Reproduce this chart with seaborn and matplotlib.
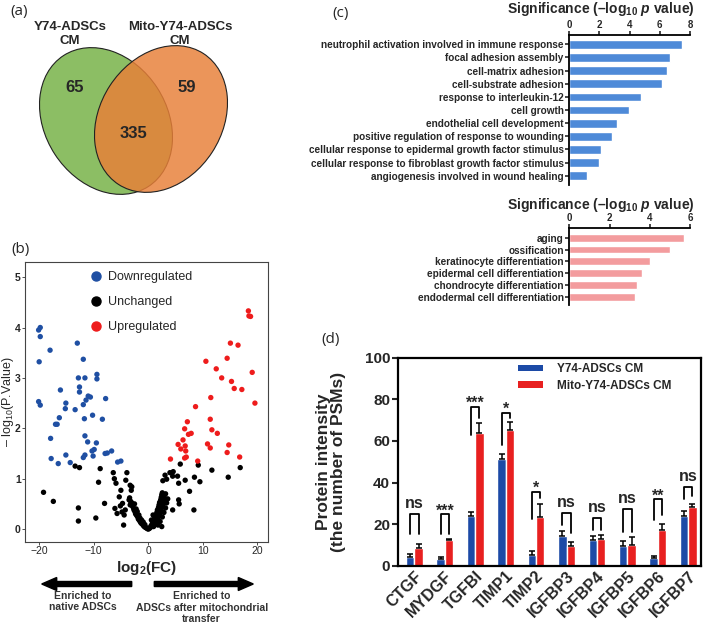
import numpy as np
import pandas as pd
import matplotlib
matplotlib.use("Agg")
import matplotlib.pyplot as plt
import seaborn as sns
from matplotlib.patches import Ellipse, FancyArrow, Patch
from matplotlib.lines import Line2D

# ---------------- data ----------------
venn_labels = ["Y74-ADSCs\nCM", "Mito-Y74-ADSCs\nCM"]
venn_counts = [65, 335, 59]   # only A, both, only B

down_x = [-20.1, -19.8, -19.8, -18.0, -20.0, -20.1, -19.8, -16.1, -13.0, -11.9, -12.8, -11.6,
          -9.4, -9.4, -12.6, -12.6, -11.9, -11.4, -11.0, -10.6, -7.8, -15.1, -15.2, -13.4,
          -16.3, -17.0, -16.7, -11.7, -10.2, -8.4, -17.9, -11.6, -11.1, -9.5, -10.3, -9.9,
          -17.8, -16.5, -15.1, -14.3, -11.9, -11.6, -10.1, -7.9, -7.5, -6.7, -5.6, -5.0]
down_y = [3.95, 4.00, 3.82, 3.55, 3.32, 2.53, 2.46, 2.76, 3.69, 3.37, 3.00, 3.00,
          3.07, 2.98, 2.82, 2.72, 2.47, 2.56, 2.64, 2.62, 2.59, 2.50, 2.39, 2.37,
          2.21, 2.08, 2.08, 2.19, 2.26, 2.18, 1.80, 1.85, 1.73, 1.71, 1.55, 1.58,
          1.40, 1.30, 1.47, 1.32, 1.42, 1.47, 1.45, 1.50, 1.51, 1.55, 1.33, 1.35]

up_x = [18.4, 18.5, 18.8, 15.1, 16.5, 10.6, 14.5, 12.5, 19.1, 13.5, 15.3, 15.8, 17.2,
        11.5, 19.6, 8.7, 7.2, 11.4, 6.7, 11.7, 12.7, 7.4, 7.9, 6.4, 5.5, 6.8, 10.9,
        14.8, 6.0, 6.9, 11.4, 14.5, 6.7, 7.0, 4.1, 9.1, 16.8]
up_y = [4.33, 4.23, 4.22, 3.69, 3.65, 3.33, 3.39, 3.18, 3.11, 3.00, 2.93, 2.79, 2.77,
        2.61, 2.50, 2.43, 2.13, 2.18, 1.99, 1.97, 1.90, 1.88, 1.90, 1.77, 1.68, 1.65, 1.69,
        1.67, 1.59, 1.55, 1.61, 1.52, 1.41, 1.43, 1.39, 1.35, 1.43]

unch_x = [-13.4, -12.6, -8.8, -6.4, -3.9, -6.2, -5.9, -9.1, -4.1, -3.3, -3.0, -3.1, -19.2,
          -17.4, -5.0, -8.0, -12.8, -12.8, -9.6, -5.3, -5.1, -4.7, -6.1, -5.7, -4.8, -4.4,
          -4.2, -3.5, -3.3, -4.5,
          5.9, 9.2, 11.7, 16.9, 14.7, 3.1, 4.0, 4.6, 4.5, 5.4, 2.7, 3.4, 5.6, 6.8, 8.5,
          9.5, 7.6, 5.6, 5.7, 4.5, 8.4, 2.5,
          -3.4, -3.2, -3.0, -2.9, -2.7, -2.6, -2.4, -2.3, -2.1, -1.9, -1.8, -1.6, -1.4,
          -1.3, -1.1, -0.9, -0.8, -0.6, -0.4, -0.3, -0.1, 0.0, -2.2, -2.0, -1.7, -1.5,
          -2.5, -1.2, -0.9, -0.6,
          0.2, 0.4, 0.5, 0.7, 0.8, 1.0, 1.1, 1.3, 1.4, 1.6, 1.7, 1.9, 2.0, 2.1, 2.3, 2.4,
          2.5, 2.6, 1.0, 1.3, 1.5, 1.7, 1.9, 2.1, 2.3, 2.5, 2.7, 2.9, 3.0, 3.2, 1.8, 2.2,
          2.6, 2.9, 3.2, 3.4, 3.6, 0.6, 0.9]
unch_y = [1.25, 1.22, 1.20, 1.12, 1.12, 1.00, 0.91, 0.93, 0.97, 0.87, 0.84, 0.77, 0.73,
          0.55, 0.77, 0.51, 0.42, 0.16, 0.22, 0.64, 0.46, 0.51, 0.41, 0.31, 0.34, 0.28,
          0.38, 0.58, 0.48, 0.08,
          1.29, 1.27, 1.17, 1.22, 1.03, 1.07, 1.12, 1.14, 1.05, 1.05, 0.96, 0.99, 0.91,
          0.97, 1.03, 0.94, 0.75, 0.58, 0.50, 0.38, 0.38, 0.05,
          0.62, 0.55, 0.52, 0.46, 0.42, 0.38, 0.34, 0.30, 0.27, 0.24, 0.20, 0.17, 0.14,
          0.12, 0.10, 0.08, 0.06, 0.04, 0.03, 0.02, 0.01, 0.00, 0.40, 0.35, 0.28, 0.22,
          0.50, 0.18, 0.14, 0.09,
          0.01, 0.03, 0.06, 0.09, 0.12, 0.16, 0.20, 0.24, 0.28, 0.33, 0.38, 0.43, 0.48,
          0.53, 0.58, 0.63, 0.68, 0.72, 0.05, 0.10, 0.15, 0.20, 0.25, 0.30, 0.36, 0.42,
          0.48, 0.55, 0.62, 0.70, 0.08, 0.15, 0.24, 0.33, 0.42, 0.52, 0.60, 0.18, 0.28]

go_up_terms = ["neutrophil activation involved in immune response", "focal adhesion assembly",
               "cell-matrix adhesion", "cell-substrate adhesion", "response to interleukin-12",
               "cell growth", "endothelial cell development",
               "positive regulation of response to wounding",
               "cellular response to epidermal growth factor stimulus",
               "cellular response to fibroblast growth factor stimulus",
               "angiogenesis involved in wound healing"]
go_up_vals = [7.49, 6.68, 6.46, 6.15, 4.73, 3.98, 3.14, 2.83, 2.08, 1.99, 1.15]

go_dn_terms = ["aging", "ossification", "keratinocyte differentiation",
               "epidermal cell differentiation", "chondrocyte differentiation",
               "endodermal cell differentiation"]
go_dn_vals = [5.71, 5.01, 4.01, 3.62, 3.39, 3.27]

genes = ["CTGF", "MYDGF", "TGFBI", "TIMP1", "TIMP2", "IGFBP3", "IGFBP4", "IGFBP5", "IGFBP6", "IGFBP7"]
ctrl_mean = [4.3, 3.0, 24.0, 51.3, 5.1, 14.3, 12.5, 9.5, 3.8, 24.0]
ctrl_err = [1.1, 1.3, 1.6, 2.4, 1.8, 2.4, 1.8, 2.6, 1.0, 2.2]
mito_mean = [8.7, 12.3, 63.6, 65.2, 23.6, 9.5, 12.8, 9.9, 17.0, 28.0]
mito_err = [1.6, 0.6, 4.8, 4.0, 6.1, 1.9, 2.1, 3.8, 2.9, 1.8]
sig_labels = ["ns", "***", "***", "*", "*", "ns", "ns", "ns", "**", "ns"]
sig_top = [24.8, 24.8, 76.4, 73.6, 35.6, 25.2, 22.8, 27.1, 31.9, 37.7]
sig_left = [15.2, 15.2, 62.7, 58.0, 22.3, 19.6, 17.1, 16.3, 22.0, 31.9]
sig_right = [15.2, 15.2, 70.8, 70.8, 32.4, 15.5, 17.1, 16.3, 24.4, 33.5]
group_names = ["Y74-ADSCs CM", "Mito-Y74-ADSCs CM"]

# ---------------- style ----------------
sns.set_theme(style="ticks")
plt.rcParams["font.family"] = ["Liberation Sans", "DejaVu Sans"]
plt.rcParams["mathtext.fontset"] = "custom"
plt.rcParams["mathtext.rm"] = "Liberation Sans"
plt.rcParams["mathtext.it"] = "Liberation Sans:italic:bold"
plt.rcParams["mathtext.bf"] = "Liberation Sans:bold"

W, H = 709, 628
fig = plt.figure(figsize=(W / 100, H / 100), dpi=100)
fig.patch.set_facecolor("white")


def fax(l, t, r, b):
    return fig.add_axes([l / W, 1 - b / H, (r - l) / W, (b - t) / H])


bg = fig.add_axes([0, 0, 1, 1])
bg.set_xlim(0, W)
bg.set_ylim(H, 0)
bg.axis("off")

# panel labels
for lab, (px, py) in zip(["(a)", "(b)", "(c)", "(d)"],
                         [(19, 11), (20, 249), (341, 13), (331, 339)]):
    bg.text(px, py, lab, ha="center", va="center", fontsize=11,
            family=["Open Sans", "DejaVu Sans"])

# ---------------- (a) Venn ----------------
bg.add_patch(Ellipse((106, 121), 122, 156, angle=-33, facecolor="#8CBE64",
                     edgecolor="#222222", lw=0.8))
bg.add_patch(Ellipse((161, 119), 122, 156, angle=33, facecolor="#E88038",
                     alpha=0.83, edgecolor="none"))
bg.add_patch(Ellipse((161, 119), 122, 156, angle=33, fill=False,
                     edgecolor="#222222", lw=0.8))
bg.text(70, 34, venn_labels[0], ha="center", va="center", fontsize=9.5,
        fontweight="bold", linespacing=1.3)
bg.text(180, 34, venn_labels[1], ha="center", va="center", fontsize=9.5,
        fontweight="bold", linespacing=1.3)
for cnt, (px, py) in zip(venn_counts, [(75, 87), (133, 134), (187, 87)]):
    bg.text(px, py, str(cnt), ha="center", va="center", fontsize=12, fontweight="bold")

# ---------------- (b) volcano ----------------
axv = fax(25, 262, 268, 541.7)
dfv = pd.DataFrame({
    "x": unch_x + down_x + up_x,
    "y": unch_y + down_y + up_y,
    "g": ["Unchanged"] * len(unch_x) + ["Downregulated"] * len(down_x) + ["Upregulated"] * len(up_x),
})
pal = {"Downregulated": "#1F4FA3", "Unchanged": "#000000", "Upregulated": "#EE1C1C"}
sns.scatterplot(data=dfv, x="x", y="y", hue="g", palette=pal, s=15, edgecolor="none",
                legend=False, ax=axv)
axv.set_xlim(-22.6, 22.0)
axv.set_ylim(-0.25, 5.3)
axv.set_xticks([-20, -10, 0, 10, 20])
axv.set_yticks([0, 1, 2, 3, 4, 5])
axv.tick_params(axis="both", labelsize=7.5, length=2, width=0.6, pad=1, color="#333333")
for t in axv.get_yticklabels():
    t.set_fontweight("bold")
for s in axv.spines.values():
    s.set_color("#444444")
    s.set_linewidth(0.8)
axv.set_xlabel(r"log$_\mathbf{2}$(FC)", fontsize=11, fontweight="bold")
axv.xaxis.set_label_coords(0.5, -0.062)
axv.set_ylabel(r"– log$_{10}$(P.Value)", fontsize=9)
axv.yaxis.set_label_coords(-0.036, 0.5)
handles = [Line2D([], [], marker="o", ls="", color=pal[k], markersize=6.5)
           for k in ["Downregulated", "Unchanged", "Upregulated"]]
axv.legend(handles, ["Downregulated", "Unchanged", "Upregulated"], loc="upper left",
           bbox_to_anchor=(0.245, 0.985), frameon=False, fontsize=9, handlelength=1,
           handletextpad=0.5, labelspacing=1.05, borderaxespad=0)

# arrows
bg.add_patch(FancyArrow(131.7, 584, -90, 0, width=5, head_width=13, head_length=15,
                        length_includes_head=True, color="black"))
bg.add_patch(FancyArrow(154.3, 584, 99, 0, width=5, head_width=13, head_length=15,
                        length_includes_head=True, color="black"))
bg.text(82.7, 591, "Enriched to\nnative ADSCs", ha="center", va="top", fontsize=7.5,
        fontweight="bold", color="#333333", linespacing=1.15)
bg.text(201.7, 591, "Enriched to\nADSCs after mitochondrial\ntransfer", ha="center",
        va="top", fontsize=7.5, fontweight="bold", color="#333333", linespacing=1.2)

# ---------------- (c) GO bars ----------------
sig_title = r"Significance (–log$\mathbf{_{10}}$ $p$ value)"


def go_panel(box, terms, vals, color, xmax, xticks, ylim, title_y):
    ax = fax(*box)
    df = pd.DataFrame({"term": terms, "val": vals})
    sns.barplot(data=df, y="term", x="val", orient="h", color=color, width=0.66,
                saturation=1, ax=ax)
    ax.set_xlim(0, xmax)
    ax.set_ylim(*ylim)
    ax.xaxis.tick_top()
    ax.set_xticks(xticks)
    ax.set_xlabel("")
    ax.set_ylabel("")
    for side in ["right", "bottom"]:
        ax.spines[side].set_visible(False)
    for side in ["left", "top"]:
        ax.spines[side].set_linewidth(1.3)
        ax.spines[side].set_color("black")
    ax.tick_params(axis="x", labelsize=7, length=3, width=1.2, pad=0.5, top=True, bottom=False)
    ax.tick_params(axis="y", labelsize=7.2, length=3, width=1.2, pad=1)
    for t in ax.get_xticklabels() + ax.get_yticklabels():
        t.set_fontweight("bold")
    bg.text(601, title_y, sig_title, ha="center", va="center", fontsize=10,
            fontweight="bold")
    return ax


go_panel((569.3, 35, 690, 185), go_up_terms, go_up_vals, "#4E8AD8", 8, [0, 2, 4, 6, 8],
         (10.7, -0.7), 9)
go_panel((569.3, 228.3, 690, 305), go_dn_terms, go_dn_vals, "#F39C9E", 6, [0, 2, 4, 6],
         (5.7, -0.8), 205.5)

# ---------------- (d) grouped bars ----------------
axd = fax(397.7, 357.7, 701, 565.7)
dfd = pd.DataFrame({
    "gene": genes * 2,
    "group": [group_names[0]] * len(genes) + [group_names[1]] * len(genes),
    "value": ctrl_mean + mito_mean,
})
cols = ["#1C4AA6", "#E82020"]
sns.barplot(data=dfd, x="gene", y="value", hue="group", palette=cols, width=0.55,
            saturation=1, errorbar=None, ax=axd, legend=False)
xpos = np.arange(len(genes))
off = 0.1375
axd.errorbar(xpos - off, ctrl_mean, yerr=[np.zeros(len(genes)), ctrl_err], fmt="none",
             ecolor="black", elinewidth=1.1, capsize=2.5, capthick=1.1)
axd.errorbar(xpos + off, mito_mean, yerr=[np.zeros(len(genes)), mito_err], fmt="none",
             ecolor="black", elinewidth=1.1, capsize=2.5, capthick=1.1)
for i, (lab, top, lb, rb) in enumerate(zip(sig_labels, sig_top, sig_left, sig_right)):
    axd.plot([i - off, i - off, i + off, i + off], [lb, top, top, rb], color="black", lw=1.3)
    yy = top + (1.6 if "*" in lab else 5.2)
    axd.text(i, yy, lab, ha="center", va="center", fontsize=11.5, fontweight="bold")
axd.set_xlim(-0.55, 9.42)
axd.set_ylim(0, 100)
axd.set_yticks([0, 20, 40, 60, 80, 100])
axd.set_xlabel("")
axd.set_ylabel("Protein intensity\n(the number of PSMs)", fontsize=12.5, fontweight="bold",
               linespacing=1.05)
axd.yaxis.set_label_coords(-0.17, 0.5)
for s in axd.spines.values():
    s.set_visible(True)
    s.set_linewidth(1.6)
    s.set_color("black")
axd.tick_params(axis="y", labelsize=11, length=4, width=1.5, pad=1.5, left=True)
axd.tick_params(axis="x", labelsize=11.5, length=0, pad=2, bottom=False)
axd.set_xticks(xpos)
axd.set_xticklabels(genes, rotation=45, ha="right", rotation_mode="anchor")
for t in axd.get_xticklabels() + axd.get_yticklabels():
    t.set_fontweight("bold")
lh = [Patch(facecolor=c, edgecolor="none") for c in cols]
axd.legend(lh, group_names, loc="upper left", bbox_to_anchor=(0.381, 0.995), frameon=False,
           prop={"size": 8.5, "weight": "bold"}, handlelength=2.1, handleheight=0.45,
           handletextpad=1.2, labelspacing=0.35, borderaxespad=0)

fig.savefig("out.png", dpi=100, facecolor="white")
